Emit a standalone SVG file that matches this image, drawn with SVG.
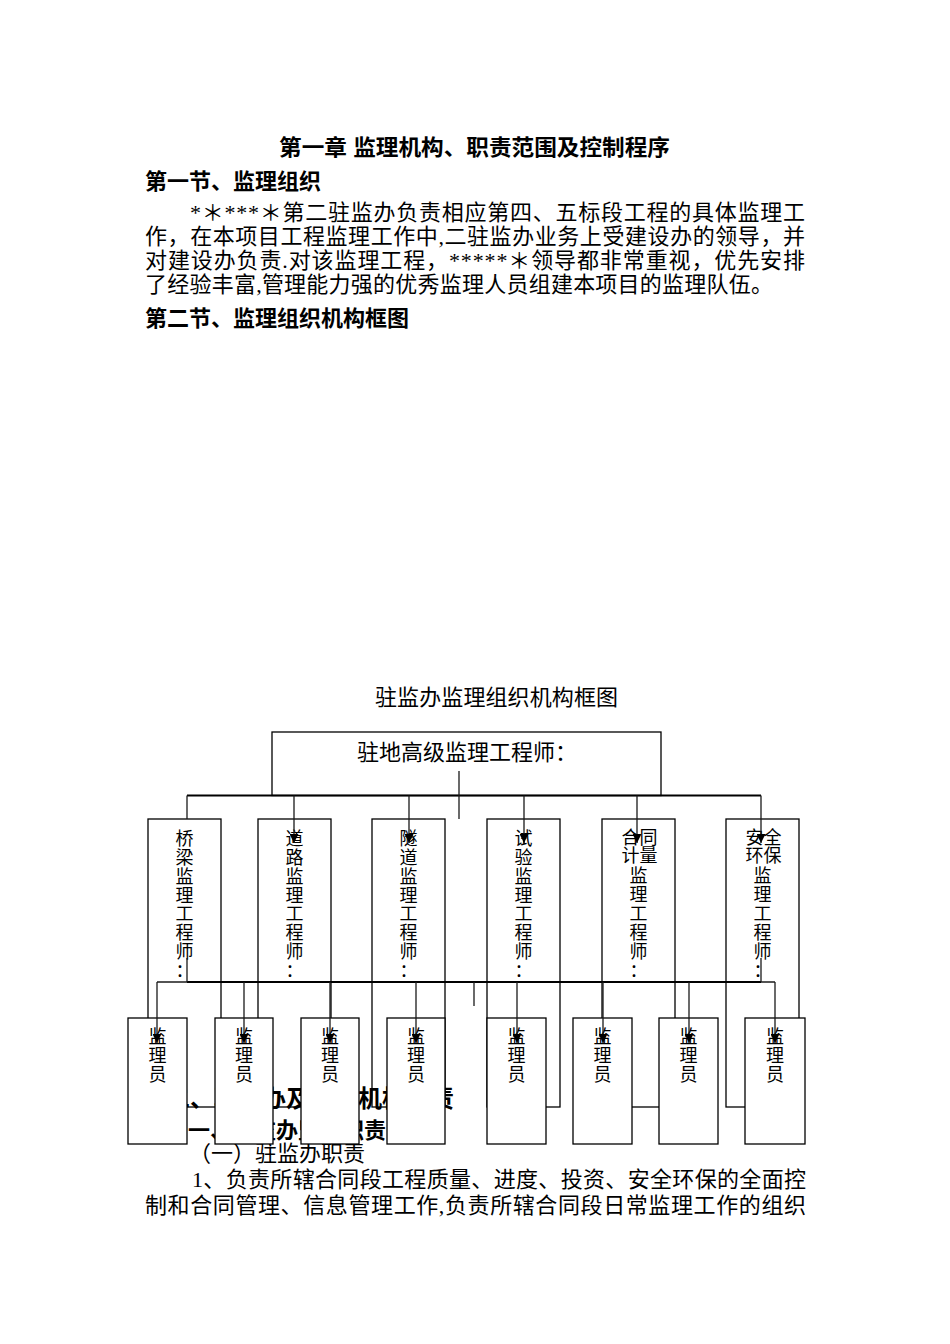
<svg xmlns="http://www.w3.org/2000/svg" width="950" height="1344" viewBox="0 0 950 1344">
<style>
.t{font-family:"Liberation Serif","Noto Sans CJK SC",serif;font-size:22px;fill:#000}
.h{font-family:"Liberation Sans","Noto Sans CJK SC",sans-serif;font-size:22px;font-weight:bold;fill:#000}
.v{font-family:"Liberation Serif","Noto Sans CJK SC",serif;font-size:18px;fill:#000;text-anchor:middle}
.box{fill:none;stroke:#000;stroke-width:1.3}
.wbox{fill:#fff;stroke:#000;stroke-width:1.3}
.ln{fill:none;stroke:#1a1a1a;stroke-width:1.3}
.bus{fill:none;stroke:#000;stroke-width:2}
</style>
<defs>
<marker id="arr" viewBox="0 0 10 10" refX="10" refY="5" markerWidth="9" markerHeight="9" markerUnits="userSpaceOnUse" orient="auto"><path d="M0,0 L10,5 L0,10 z" fill="#000"/></marker>
</defs>
<rect width="950" height="1344" fill="#fff"/>

<g id="document-text">
<text class="h" x="279" y="155" textLength="391" lengthAdjust="spacingAndGlyphs">第一章 监理机构、职责范围及控制程序</text>
<text class="h" x="145" y="189">第一节、监理组织</text>
<text class="t" x="190" y="220" textLength="615" lengthAdjust="spacing">*＊***＊第二驻监办负责相应第四、五标段工程的具体监理工</text>
<text class="t" x="145" y="244" textLength="660" lengthAdjust="spacing">作，在本项目工程监理工作中,二驻监办业务上受建设办的领导，并</text>
<text class="t" x="145" y="268" textLength="660" lengthAdjust="spacing">对建设办负责.对该监理工程，*****＊领导都非常重视，优先安排</text>
<text class="t" x="145" y="292" textLength="628" lengthAdjust="spacing">了经验丰富,管理能力强的优秀监理人员组建本项目的监理队伍。</text>
<text class="h" x="145" y="326">第二节、监理组织机构框图</text>
<text class="t" x="375" y="705" textLength="243" lengthAdjust="spacing">驻监办监理组织机构框图</text>
<text class="h" x="166" y="1107" style="font-size:24px">二、驻监办及监理机构职责</text>
<text class="h" x="188" y="1138">一、驻监办监理职责</text>
<text class="t" x="189" y="1161">（一）驻监办职责</text>
<text class="t" x="192" y="1187" textLength="614" lengthAdjust="spacing">1、负责所辖合同段工程质量、进度、投资、安全环保的全面控</text>
<text class="t" x="145" y="1213" textLength="661" lengthAdjust="spacing">制和合同管理、信息管理工作,负责所辖合同段日常监理工作的组织</text>
</g>

<g id="senior-engineer">
<rect class="box" x="272" y="732" width="389" height="63.5"/>
<text class="t" x="357" y="760">驻地高级监理工程师：</text>
</g>

<g id="eng-bridge">
<rect class="box" x="148" y="819" width="73" height="288"/>
<text class="v"><tspan x="184.5" y="845">桥</tspan><tspan x="184.5" y="864">梁</tspan><tspan x="184.5" y="883">监</tspan><tspan x="184.5" y="902">理</tspan><tspan x="184.5" y="920">工</tspan><tspan x="184.5" y="939">程</tspan><tspan x="184.5" y="958">师</tspan><tspan x="184.5" y="977">：</tspan></text>
</g>
<g id="eng-road">
<rect class="box" x="258" y="819" width="73" height="288"/>
<text class="v"><tspan x="294.5" y="845">道</tspan><tspan x="294.5" y="864">路</tspan><tspan x="294.5" y="883">监</tspan><tspan x="294.5" y="902">理</tspan><tspan x="294.5" y="920">工</tspan><tspan x="294.5" y="939">程</tspan><tspan x="294.5" y="958">师</tspan><tspan x="294.5" y="977">：</tspan></text>
</g>
<g id="eng-tunnel">
<rect class="box" x="372" y="819" width="73" height="288"/>
<text class="v"><tspan x="408.5" y="845">隧</tspan><tspan x="408.5" y="864">道</tspan><tspan x="408.5" y="883">监</tspan><tspan x="408.5" y="902">理</tspan><tspan x="408.5" y="920">工</tspan><tspan x="408.5" y="939">程</tspan><tspan x="408.5" y="958">师</tspan><tspan x="408.5" y="977">：</tspan></text>
</g>
<g id="eng-test">
<rect class="box" x="487" y="819" width="73" height="288"/>
<text class="v"><tspan x="523.5" y="845">试</tspan><tspan x="523.5" y="864">验</tspan><tspan x="523.5" y="883">监</tspan><tspan x="523.5" y="902">理</tspan><tspan x="523.5" y="920">工</tspan><tspan x="523.5" y="939">程</tspan><tspan x="523.5" y="958">师</tspan><tspan x="523.5" y="977">：</tspan></text>
</g>
<g id="eng-contract">
<rect class="box" x="602" y="819" width="73" height="288"/>
<text class="v"><tspan x="639.5" y="844">合同</tspan><tspan x="639.5" y="862">计量</tspan><tspan x="638.5" y="882">监</tspan><tspan x="638.5" y="901">理</tspan><tspan x="638.5" y="920">工</tspan><tspan x="638.5" y="939">程</tspan><tspan x="638.5" y="958">师</tspan><tspan x="638.5" y="977">：</tspan></text>
</g>
<g id="eng-safety">
<rect class="box" x="726" y="819" width="73" height="288"/>
<text class="v"><tspan x="763.5" y="844">安全</tspan><tspan x="763.5" y="862">环保</tspan><tspan x="762.5" y="882">监</tspan><tspan x="762.5" y="901">理</tspan><tspan x="762.5" y="920">工</tspan><tspan x="762.5" y="939">程</tspan><tspan x="762.5" y="958">师</tspan><tspan x="762.5" y="977">：</tspan></text>
</g>

<g id="connectors-upper">
<path class="bus" d="M187,795.5 H761"/>
<path class="ln" d="M187,795.5 V819"/>
<path class="ln" d="M459,771 V819"/>
<path class="ln" d="M294,795.5 V843" marker-end="url(#arr)"/>
<path class="ln" d="M409,795.5 V843" marker-end="url(#arr)"/>
<path class="ln" d="M524,795.5 V843" marker-end="url(#arr)"/>
<path class="ln" d="M637,795.5 V843" marker-end="url(#arr)"/>
<path class="ln" d="M761,795.5 V843" marker-end="url(#arr)"/>
</g>

<g id="worker-1"><rect class="wbox" x="128" y="1018" width="59" height="126"/><text class="v"><tspan x="157.5" y="1043">监</tspan><tspan x="157.5" y="1062">理</tspan><tspan x="157.5" y="1081">员</tspan></text></g>
<g id="worker-2"><rect class="wbox" x="215" y="1018" width="58" height="126"/><text class="v"><tspan x="244" y="1043">监</tspan><tspan x="244" y="1062">理</tspan><tspan x="244" y="1081">员</tspan></text></g>
<g id="worker-3"><rect class="wbox" x="301" y="1018" width="58" height="126"/><text class="v"><tspan x="330" y="1043">监</tspan><tspan x="330" y="1062">理</tspan><tspan x="330" y="1081">员</tspan></text></g>
<g id="worker-4"><rect class="wbox" x="387" y="1018" width="58" height="126"/><text class="v"><tspan x="416" y="1043">监</tspan><tspan x="416" y="1062">理</tspan><tspan x="416" y="1081">员</tspan></text></g>
<g id="worker-5"><rect class="wbox" x="487" y="1018" width="59" height="126"/><text class="v"><tspan x="516.5" y="1043">监</tspan><tspan x="516.5" y="1062">理</tspan><tspan x="516.5" y="1081">员</tspan></text></g>
<g id="worker-6"><rect class="wbox" x="573" y="1018" width="59" height="126"/><text class="v"><tspan x="602.5" y="1043">监</tspan><tspan x="602.5" y="1062">理</tspan><tspan x="602.5" y="1081">员</tspan></text></g>
<g id="worker-7"><rect class="wbox" x="659" y="1018" width="59" height="126"/><text class="v"><tspan x="688.5" y="1043">监</tspan><tspan x="688.5" y="1062">理</tspan><tspan x="688.5" y="1081">员</tspan></text></g>
<g id="worker-8"><rect class="wbox" x="745" y="1018" width="60" height="126"/><text class="v"><tspan x="775" y="1043">监</tspan><tspan x="775" y="1062">理</tspan><tspan x="775" y="1081">员</tspan></text></g>

<g id="connectors-lower">
<path class="ln" d="M157,982 H775"/>
<path class="bus" d="M187,982 H761"/>
<path class="ln" d="M187,958 V982"/>
<path class="ln" d="M761,958 V982"/>
<path class="ln" d="M474,982 V1006"/>
<path class="ln" d="M157,982 V1043" marker-end="url(#arr)"/>
<path class="ln" d="M244,982 V1043" marker-end="url(#arr)"/>
<path class="ln" d="M330,982 V1043" marker-end="url(#arr)"/>
<path class="ln" d="M416,982 V1043" marker-end="url(#arr)"/>
<path class="ln" d="M517,982 V1043" marker-end="url(#arr)"/>
<path class="ln" d="M603,982 V1043" marker-end="url(#arr)"/>
<path class="ln" d="M689,982 V1043" marker-end="url(#arr)"/>
<path class="ln" d="M775,982 V1043" marker-end="url(#arr)"/>
</g>
</svg>
